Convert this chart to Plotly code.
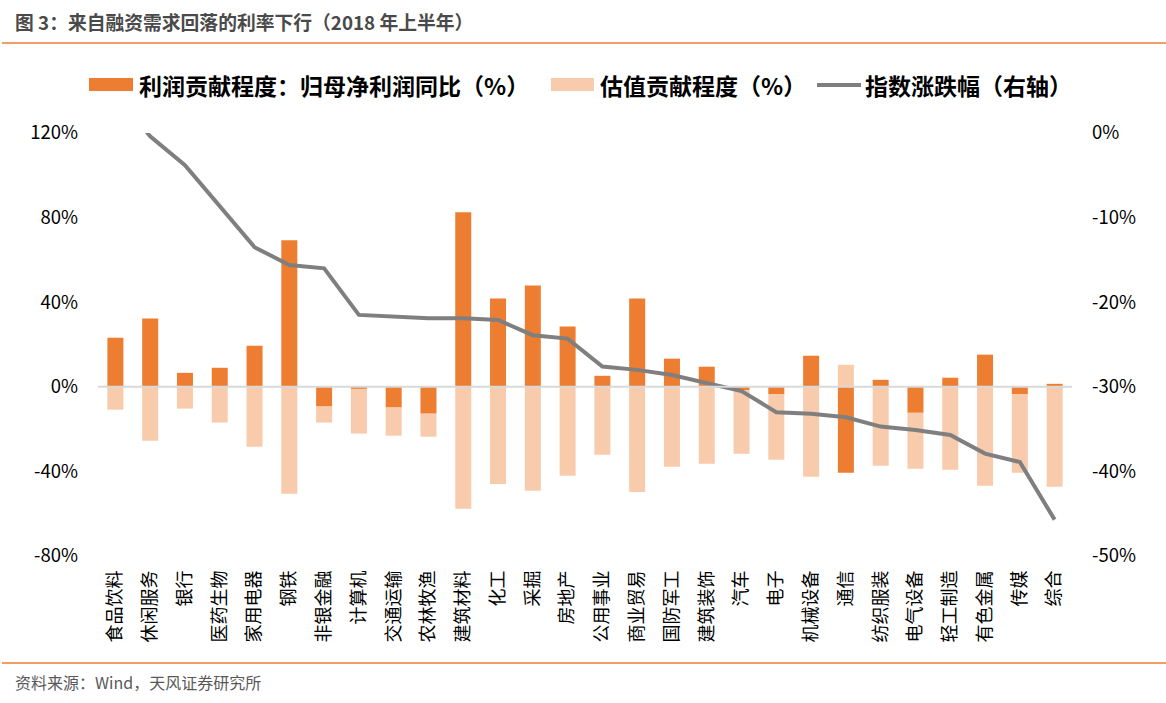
import plotly.graph_objects as go

# ---------------- data ----------------
categories = ["食品饮料", "休闲服务", "银行", "医药生物", "家用电器", "钢铁", "非银金融", "计算机",
              "交通运输", "农林牧渔", "建筑材料", "化工", "采掘", "房地产", "公用事业", "商业贸易",
              "国防军工", "建筑装饰", "汽车", "电子", "机械设备", "通信", "纺织服装", "电气设备",
              "轻工制造", "有色金属", "传媒", "综合"]

profit_contrib = [23.2, 32.3, 6.6, 9.0, 19.4, 69.3, -9.3, -1.0, -9.8, -12.7, 82.5, 41.7, 47.9, 28.5,
                  5.2, 41.7, 13.3, 9.5, -1.5, -3.6, 14.7, -40.6, 3.3, -12.3, 4.3, 15.2, -3.6, 1.4]

valuation_contrib = [-10.8, -25.5, -10.3, -16.9, -28.3, -50.6, -7.6, -21.1, -13.3, -10.9, -57.7, -45.9,
                     -49.2, -42.1, -32.1, -49.7, -37.8, -36.4, -30.1, -30.9, -42.5, 10.4, -37.3, -26.4,
                     -39.2, -46.8, -37.0, -47.3]

index_change = [4.8, -0.4, -3.8, -8.7, -13.5, -15.6, -16.0, -21.5, -21.7, -21.9, -21.9, -22.1, -23.9,
                -24.3, -27.6, -28.0, -28.6, -29.5, -30.5, -33.0, -33.2, -33.6, -34.7, -35.1, -35.7,
                -37.9, -38.9, -45.7]

left_tick_values = [-80, -40, 0, 40, 80, 120]
left_tick_labels = ["-80%", "-40%", "0%", "40%", "80%", "120%"]
right_tick_values = [-50, -40, -30, -20, -10, 0]
right_tick_labels = ["-50%", "-40%", "-30%", "-20%", "-10%", "0%"]

series_names = ["利润贡献程度：归母净利润同比（%）", "估值贡献程度（%）", "指数涨跌幅（右轴）"]
title_text = "图 3：来自融资需求回落的利率下行（2018 年上半年）"
source_text = "资料来源：Wind，天风证券研究所"

# ---------------- style ----------------
ORANGE = "#ED7D31"
PALE = "#F8CBAD"
GREY = "#7F7F7F"
FONT = "Noto Sans CJK SC"

W, H = 1166, 703
L, R, T, B = 98, 94, 133, 147
PW, PH = W - L - R, H - T - B


def px(x):
    return (x - L) / PW


def py(y):
    return (H - B - y) / PH


fig = go.Figure()
fig.add_trace(go.Bar(x=categories, y=profit_contrib, name=series_names[0],
                     marker=dict(color=ORANGE, line=dict(width=0))))
fig.add_trace(go.Bar(x=categories, y=valuation_contrib, name=series_names[1],
                     marker=dict(color=PALE, line=dict(width=0))))
fig.add_trace(go.Scatter(x=categories, y=index_change, name=series_names[2], yaxis="y2",
                         mode="lines", line=dict(color=GREY, width=4)))

shapes = [
    # zero line
    dict(type="line", xref="paper", yref="y", x0=0, x1=1, y0=0, y1=0,
         line=dict(color="#D9D9D9", width=2), layer="above"),
    # header / footer rules
    dict(type="line", xref="paper", yref="paper", x0=px(2), x1=px(W), y0=py(43), y1=py(43),
         line=dict(color=ORANGE, width=1.5)),
    dict(type="line", xref="paper", yref="paper", x0=px(2), x1=px(W), y0=py(663), y1=py(663),
         line=dict(color=ORANGE, width=1.5)),
    # legend swatches
    dict(type="rect", xref="paper", yref="paper", x0=px(89), x1=px(133), y0=py(91), y1=py(78),
         fillcolor=ORANGE, line=dict(width=0)),
    dict(type="rect", xref="paper", yref="paper", x0=px(551), x1=px(594), y0=py(91), y1=py(78),
         fillcolor=PALE, line=dict(width=0)),
    dict(type="line", xref="paper", yref="paper", x0=px(817), x1=px(861), y0=py(85), y1=py(85),
         line=dict(color=GREY, width=4)),
]

legend_font = dict(family=FONT, size=23, color="#000000", weight="bold")
annotations = [
    dict(text=series_names[0], x=px(137), y=py(85), xref="paper", yref="paper",
         xanchor="left", yanchor="middle", showarrow=False, font=legend_font),
    dict(text=series_names[1], x=px(598), y=py(85), xref="paper", yref="paper",
         xanchor="left", yanchor="middle", showarrow=False, font=legend_font),
    dict(text=series_names[2], x=px(863), y=py(85), xref="paper", yref="paper",
         xanchor="left", yanchor="middle", showarrow=False, font=legend_font),
    dict(text=title_text, x=px(13), y=py(22), xref="paper", yref="paper",
         xanchor="left", yanchor="middle", showarrow=False,
         font=dict(family=FONT, size=18.8, color="#4A4A4A", weight="bold")),
    dict(text=source_text, x=px(13), y=py(682), xref="paper", yref="paper",
         xanchor="left", yanchor="middle", showarrow=False,
         font=dict(family=FONT, size=16, color="#595959")),
]

fig.update_layout(
    width=W, height=H,
    margin=dict(l=L, r=R, t=T, b=B, pad=0),
    paper_bgcolor="white", plot_bgcolor="white",
    barmode="relative", bargap=0.54,
    showlegend=False,
    font=dict(family=FONT, size=18, color="#000000"),
    xaxis=dict(type="category", tickangle=-90, showgrid=False, showline=False, zeroline=False,
               ticks="", tickfont=dict(size=18, family=FONT), ticklabelstandoff=10),
    yaxis=dict(range=[-80, 120], tickvals=left_tick_values, ticktext=left_tick_labels,
               showgrid=False, zeroline=False, showline=False, ticks="",
               tickfont=dict(size=18.5, family=FONT), ticklabelstandoff=19),
    yaxis2=dict(range=[-50, 0], tickvals=right_tick_values, ticktext=right_tick_labels,
                overlaying="y", side="right", showgrid=False, zeroline=False, showline=False,
                ticks="", tickfont=dict(size=18.5, family=FONT), ticklabelstandoff=19),
    shapes=shapes,
    annotations=annotations,
)

fig.write_html("out.html",
               config={"displayModeBar": False},
               post_script="document.body.style.margin='0';document.body.style.overflow='hidden';")
